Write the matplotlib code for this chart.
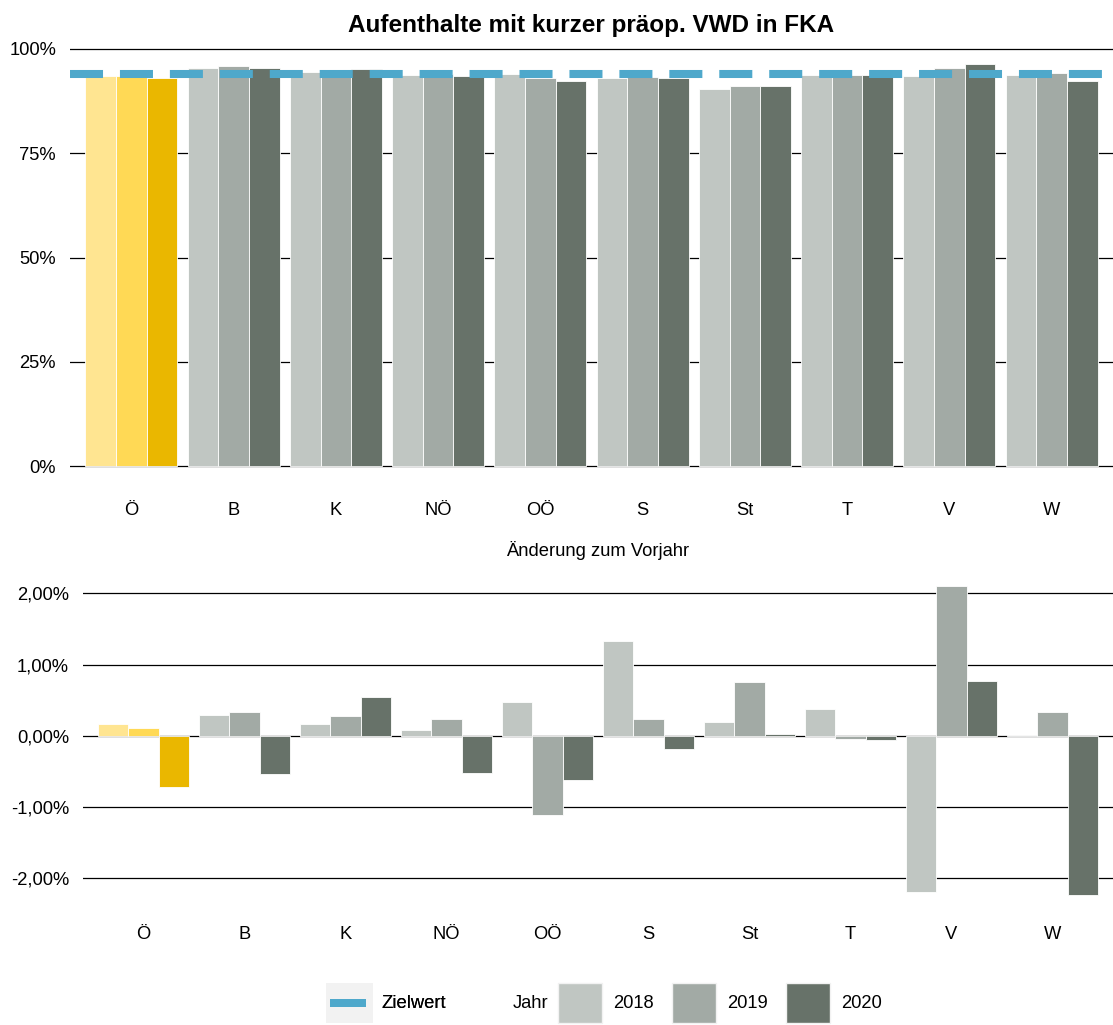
import numpy as np
import matplotlib
matplotlib.use("Agg")
import matplotlib.pyplot as plt
from matplotlib.patches import Patch, Rectangle

plt.rcParams['font.family'] = ['Liberation Sans', 'DejaVu Sans']

# data
regions = ["Ö", "B", "K", "NÖ", "OÖ", "S", "St", "T", "V", "W"]
years = ["2018", "2019", "2020"]
share_2018 = [93.5, 95.4, 94.5, 93.8, 94.0, 93.0, 90.3, 93.8, 93.5, 93.8]
share_2019 = [93.6, 95.8, 94.7, 94.0, 93.0, 93.3, 91.0, 93.7, 95.4, 94.3]
share_2020 = [92.9, 95.3, 95.2, 93.4, 92.4, 93.0, 91.0, 93.8, 96.3, 92.2]
change_2018 = [0.16, 0.29, 0.16, 0.08, 0.47, 1.33, 0.19, 0.38, -2.20, 0.01]
change_2019 = [0.11, 0.34, 0.28, 0.23, -1.11, 0.24, 0.76, -0.05, 2.11, 0.34]
change_2020 = [-0.72, -0.54, 0.54, -0.52, -0.62, -0.19, 0.03, -0.06, 0.77, -2.24]
target = 94.0

grey_cols = ["#C0C6C2", "#A2AAA5", "#677269"]
yellow_cols = ["#FFE591", "#FFD955", "#EAB700"]
target_col = "#4EA8CB"
key_bg = "#F2F2F2"
FS = 13.2

W, H = 1113, 1025
fig = plt.figure(figsize=(W / 100, H / 100), dpi=100)
ax1 = fig.add_axes([70/W, 1-487/H, 1043/W, 459/H])
ax2 = fig.add_axes([83/W, 1-911/H, 1030/W, 341/H])

x = np.arange(len(regions))
w = 0.3

def draw_bars(ax, series):
    # Ö (first group) in yellow, the rest in grey
    for i, vals in enumerate(series):
        cols = [yellow_cols[i]] + [grey_cols[i]] * (len(regions) - 1)
        ax.bar(x + (i - 1) * w, vals, width=w, color=cols, edgecolor="white",
               linewidth=0.6, zorder=2)

def style(ax):
    for s in ax.spines.values():
        s.set_visible(False)
    ax.set_xlim(-0.6, len(regions) - 0.4)
    ax.set_xticks(x)
    ax.set_xticklabels(regions)
    ax.tick_params(length=0, labelsize=FS)
    ax.tick_params(axis="x", pad=11)
    ax.tick_params(axis="y", pad=10)
    ax.yaxis.grid(True, color="black", linewidth=0.9, zorder=1)
    ax.set_axisbelow(True)

class TargetKey:
    # grey key box with a short thick blue line in the middle
    def legend_artist(self, legend, orig_handle, fontsize, handlebox):
        x0, y0 = -handlebox.xdescent, -handlebox.ydescent
        bw, bh = handlebox.width, handlebox.height
        tr = handlebox.get_transform()
        bg = Rectangle((x0, y0), bw, bh, facecolor=key_bg, edgecolor="none", transform=tr)
        ln = Rectangle((x0 + 0.1 * bw, y0 + bh / 2 - 3.2), 0.76 * bw, 6.4,
                       facecolor=target_col, edgecolor="none", transform=tr)
        handlebox.add_artist(bg)
        handlebox.add_artist(ln)
        return bg

draw_bars(ax1, [share_2018, share_2019, share_2020])
ax1.axhline(target, color=target_col, linewidth=5.8, dashes=(4.1, 2.1),
            dash_capstyle="butt", zorder=3)
style(ax1)
ax1.set_ylim(-5, 105)
ax1.set_yticks([0, 25, 50, 75, 100])
ax1.set_yticklabels(["0%", "25%", "50%", "75%", "100%"])
fig.text((70 + 1113) / 2 / W, 1 - 32/H, "Aufenthalte mit kurzer präop. VWD in FKA",
         fontsize=17.5, fontweight="bold", ha="center", va="baseline")

draw_bars(ax2, [change_2018, change_2019, change_2020])
style(ax2)
ax2.set_ylim(-2.46, 2.33)
ax2.set_yticks([-2, -1, 0, 1, 2])
ax2.set_yticklabels(["-2,00%", "-1,00%", "0,00%", "1,00%", "2,00%"])
fig.text((83 + 1113) / 2 / W, 1 - 551/H, "Änderung zum Vorjahr",
         fontsize=FS, ha="center", va="center")

# legend
h_target = Patch()
leg1 = fig.legend([h_target], ["Zielwert"], loc="center",
                  bbox_to_anchor=(386/W, 1-1003/H), frameon=False,
                  fontsize=FS, handlelength=2.55, handleheight=3.0,
                  handletextpad=0.5, handler_map={Patch: TargetKey()})
fig.add_artist(leg1)
fig.text(531/W, 1-1003/H, "Jahr", fontsize=FS, ha="center", va="center")
year_handles = [Patch(facecolor=c, edgecolor=key_bg, linewidth=1) for c in grey_cols]
fig.legend(year_handles, years, loc="center", ncol=3,
           bbox_to_anchor=(720/W, 1-1003/H), frameon=False,
           fontsize=FS, handlelength=2.4, handleheight=3.0,
           handletextpad=0.65, columnspacing=0.95)

fig.savefig("out.png", dpi=100)
